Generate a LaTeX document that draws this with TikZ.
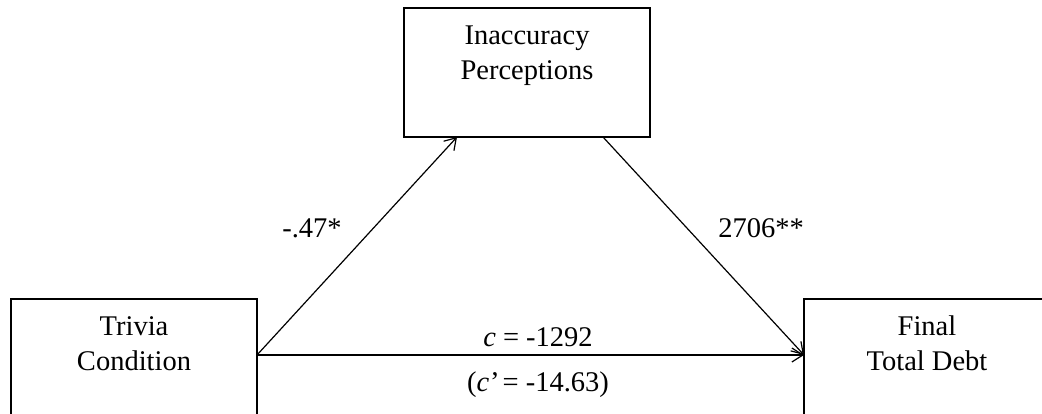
\documentclass[tikz,border=0pt]{standalone}
\usepackage{fontspec}
\setmainfont{Liberation Serif}
\usetikzlibrary{arrows.meta}
\begin{document}
\begin{tikzpicture}[x=1pt,y=-1pt,
  box/.style={draw, line width=1.5pt, minimum width=246pt, minimum height=129pt, inner sep=0pt, outer sep=0pt},
  lbl/.style={font=\fontsize{28.5}{35}\selectfont, align=center, inner sep=0pt},
  arr/.style={line width=1.2pt, -{Straight Barb[length=11pt,width=14pt,line width=1.2pt]}}]
\useasboundingbox (0,0) rectangle (1042,413);
% boxes (same size; side boxes run past the picture's edge)
\node[box] (top) at (527,72.5) {};
\node[box] (lft) at (134,363.5) {};
\node[box] (rgt) at (927,363.5) {};
% box texts
\node[lbl, anchor=north] (toptxt) at ([yshift=-11.5pt]top.north) {\strut Inaccuracy\\\strut Perceptions};
\node[lbl, anchor=north] (lfttxt) at ([yshift=-11.5pt]lft.north) {\strut Trivia\\\strut Condition};
\node[lbl, anchor=north] (rgttxt) at ([yshift=-11.5pt]rgt.north) {\strut Final\\\strut Total Debt};
% anchor points
\coordinate (lout) at ([yshift=-56pt]lft.north east);
\coordinate (rin) at ([yshift=-56pt]rgt.north west);
\coordinate (tin) at ([xshift=53pt]top.south west);
\coordinate (tout) at ([xshift=199pt]top.south west);
% connectors
\draw[arr] (lout) -- (tin);
\draw[arr] (tout) -- (rin);
\draw[arr] (lout) -- (rin);
% labels
\node[lbl, anchor=base] (a) at (312,237) {-.47*};
\node[lbl, anchor=base] (b) at (761,237) {2706**};
\node[lbl, anchor=base] (c) at (538,346) {\textit{c} = -1292};
\node[lbl, anchor=base] (cp) at (538,391) {(\textit{c}\kern1pt’\kern3pt= -14.63)};
\end{tikzpicture}
\end{document}
